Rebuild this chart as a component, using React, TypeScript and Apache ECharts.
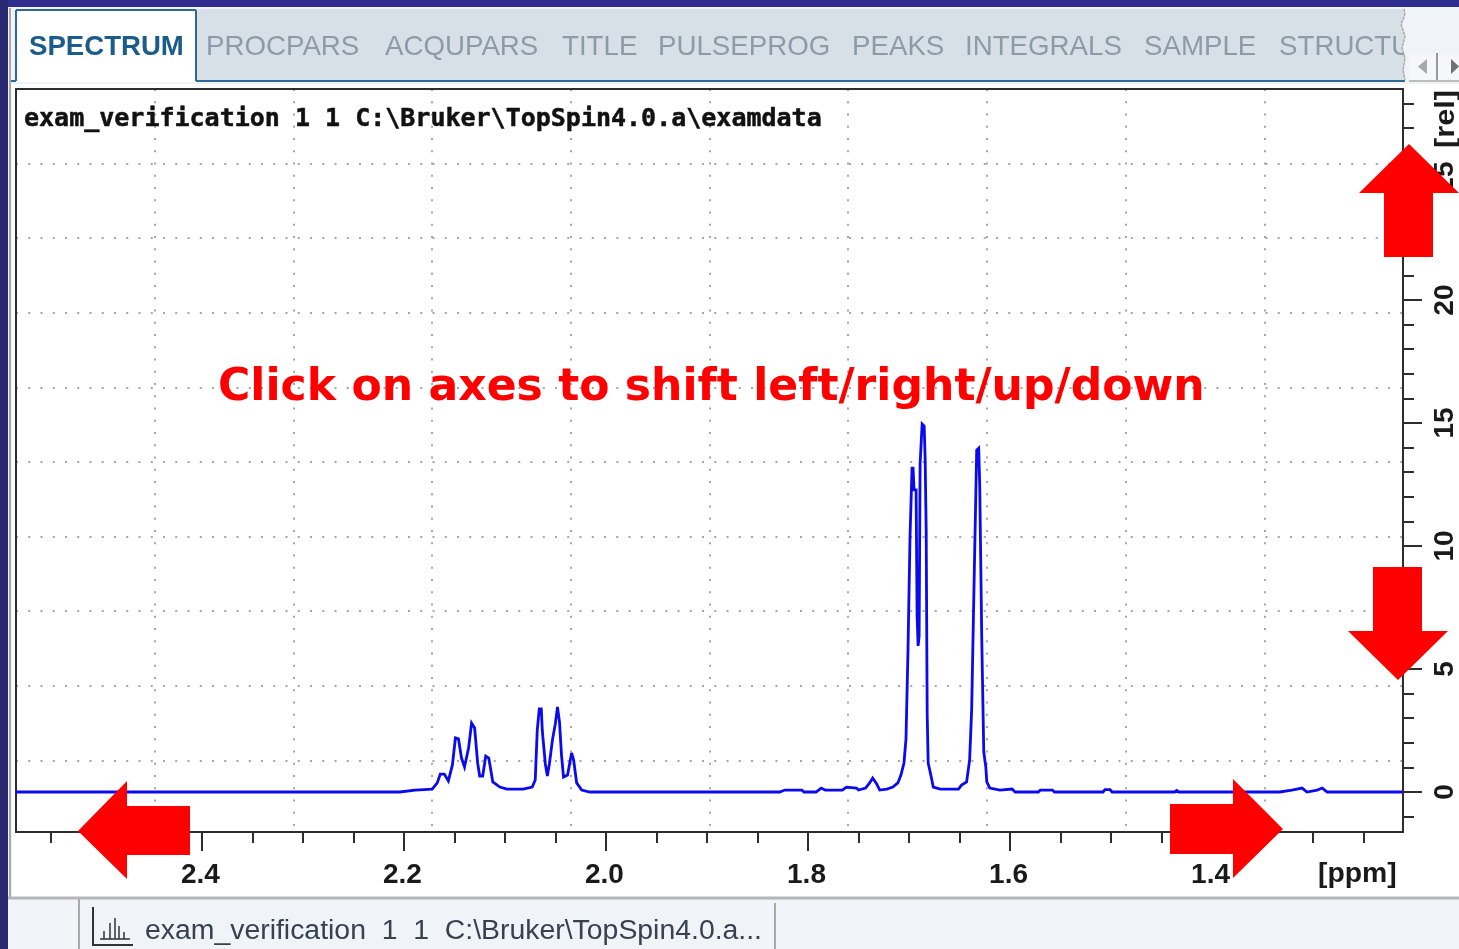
import React, { useEffect, useRef } from "react";
import * as echarts from "echarts";

const ppm = [2.584, 2.204, 2.189, 2.172, 2.167, 2.164, 2.16, 2.156, 2.152, 2.149, 2.146, 2.143, 2.14, 2.136, 2.133, 2.13, 2.127, 2.125, 2.122, 2.119, 2.116, 2.112, 2.105, 2.098, 2.082, 2.073, 2.07, 2.068, 2.066, 2.064, 2.063, 2.06, 2.058, 2.056, 2.053, 2.05, 2.048, 2.046, 2.044, 2.042, 2.038, 2.034, 2.032, 2.029, 2.024, 2.016, 1.828, 1.823, 1.806, 1.804, 1.792, 1.787, 1.783, 1.766, 1.762, 1.752, 1.75, 1.743, 1.739, 1.736, 1.732, 1.729, 1.722, 1.716, 1.711, 1.708, 1.705, 1.703, 1.701, 1.699, 1.697, 1.696, 1.695, 1.693, 1.692, 1.691, 1.69, 1.689, 1.687, 1.685, 1.684, 1.683, 1.682, 1.681, 1.678, 1.676, 1.669, 1.651, 1.648, 1.643, 1.64, 1.638, 1.635, 1.633, 1.631, 1.63, 1.628, 1.626, 1.624, 1.623, 1.62, 1.61, 1.598, 1.595, 1.572, 1.57, 1.558, 1.556, 1.508, 1.506, 1.501, 1.499, 1.437, 1.435, 1.433, 1.333, 1.321, 1.311, 1.306, 1.296, 1.291, 1.286, 1.211];
const intensity = [0, 0, 0.08, 0.12, 0.37, 0.73, 0.73, 0.45, 1.1, 2.2, 2.16, 1.38, 1.02, 1.79, 2.8, 2.6, 1.18, 0.65, 0.65, 1.46, 1.38, 0.41, 0.2, 0.12, 0.12, 0.2, 0.49, 2.52, 3.38, 3.38, 2.48, 1.14, 0.65, 1.14, 2.11, 2.8, 3.46, 2.85, 1.5, 0.61, 0.69, 1.59, 1.3, 0.37, 0.08, 0, 0, 0.08, 0.08, 0, 0, 0.16, 0.08, 0.08, 0.2, 0.16, 0.08, 0.16, 0.37, 0.57, 0.33, 0.08, 0.12, 0.2, 0.37, 0.69, 1.18, 2.15, 5.77, 10.4, 13.17, 13.17, 12.28, 12.28, 7.16, 5.94, 6.34, 13.37, 14.96, 14.88, 13.5, 10.6, 3.13, 1.18, 0.61, 0.2, 0.12, 0.12, 0.28, 0.41, 1.3, 3.33, 9.76, 13.9, 13.98, 12.48, 6.26, 1.63, 1.02, 0.41, 0.16, 0.08, 0.12, 0, 0, 0.08, 0.08, 0, 0, 0.1, 0.1, 0, 0, 0.06, 0, 0, 0.08, 0.16, 0, 0.08, 0.16, 0, 0];

const xMajor = [2.4, 2.2, 2.0, 1.8, 1.6, 1.4];
const xMinor = [2.55, 2.5, 2.45, 2.35, 2.3, 2.25, 2.15, 2.1, 2.05, 1.95, 1.9, 1.85, 1.75, 1.7, 1.65, 1.55, 1.5, 1.45, 1.35, 1.3, 1.25];
const yMajor = [0, 5, 10, 15, 20, 25];
const yMinor = [-1, 1, 2, 3, 4, 6, 7, 8, 9, 11, 12, 13, 14, 16, 17, 18, 19, 21, 22, 23, 24, 26, 27, 28];

const tabs = [
  { label: "PROCPARS", x: 206 },
  { label: "ACQUPARS", x: 385 },
  { label: "TITLE", x: 562 },
  { label: "PULSEPROG", x: 658 },
  { label: "PEAKS", x: 852 },
  { label: "INTEGRALS", x: 965 },
  { label: "SAMPLE", x: 1144 },
  { label: "STRUCTU", x: 1279 },
];

const DARK = "#2d2d2d";
const RED = "#ff0000";
const SANS = '"Liberation Sans", Arial, sans-serif';

const rect = (x: number, y: number, w: number, h: number, fill: string, z = -5) => ({
  type: "rect", z, silent: true, shape: { x, y, width: w, height: h }, style: { fill },
});
const line = (x1: number, y1: number, x2: number, y2: number, stroke: string, lineWidth = 2, z = -3) => ({
  type: "line", z, silent: true, shape: { x1, y1, x2, y2 }, style: { stroke, lineWidth },
});
const poly = (points: number[][], fill: string, z = 50) => ({
  type: "polygon", z, silent: true, shape: { points }, style: { fill },
});
const label = (text: string, x: number, y: number, font: string, fill: string, z = 40, extra: any = {}, styleExtra: any = {}) => ({
  type: "text", z, silent: true, x, y, ...extra,
  style: { text, font, fill, textVerticalAlign: "middle", textBaseline: "middle", ...styleExtra },
});

const chrome = [
  rect(0, 0, 1459, 949, "#f0f4f8", -9),
  rect(0, 0, 1459, 7, "#2f2e8e", -8),
  rect(0, 0, 8, 949, "#28286f", -8),
  rect(12, 84, 1447, 813, "#ffffff", -8),
  line(10, 8, 10, 897, "#a8a8a8", 2),
  line(8, 898, 1459, 898, "#b4b6b8", 3),
  rect(16, 9, 1389, 72, "#d8e0e7", -7),
  rect(16, 10, 180, 72, "#ffffff", -6),
  line(16, 10, 196, 10, "#2c6a94", 2, -4),
  line(16, 10, 16, 81, "#2c6a94", 2, -4),
  line(196, 10, 196, 81, "#2c6a94", 2, -4),
  line(196, 81, 1405, 81, "#2c6a94", 2, -4),
  line(11, 81, 16, 81, "#2c6a94", 2, -4),
  line(79, 899, 79, 949, "#a8a8a8", 2),
  line(775, 903, 775, 949, "#a8a8a8", 2),
];

const tabLabels = [
  label("SPECTRUM", 29, 45.5, `bold 27.6px ${SANS}`, "#1c5c8a"),
  ...tabs.map((t) => label(t.label, t.x, 45.5, `27.7px ${SANS}`, "#8d9ba8")),
  poly([[1405, 8], [1407, 14], [1402, 24], [1405, 36], [1403, 48], [1405, 58], [1404, 70], [1406, 81], [1459, 81], [1459, 8]], "#f0f4f8", 41),
  { type: "polyline", z: 42, silent: true, shape: { points: [[1404, 9], [1405, 14], [1401, 24], [1405, 36], [1402, 48], [1405, 58], [1403, 70], [1405, 80]] }, style: { stroke: "#a9a9a9", fill: "none", lineWidth: 1.5, lineDash: [3, 1] } },
  rect(1409, 53, 50, 28, "#f5f7f9", 43),
  line(1437, 53, 1437, 81, "#999999", 2, 44),
  line(1409, 81, 1459, 81, "#bdbdbd", 2, 44),
  poly([[1427, 59], [1427, 74], [1418, 66.5]], "#a8a8a8", 44),
  poly([[1451, 59], [1451, 74], [1459, 66.5]], "#707070", 44),
];

const texts = [
  label("exam_verification 1 1 C:\\Bruker\\TopSpin4.0.a\\examdata", 24, 117, `bold 25px "DejaVu Sans Mono", monospace`, "#111111", 30, {}, { stroke: "#111111", lineWidth: 0.5 }),
  label("[ppm]", 1318, 873, `bold 27px ${SANS}`, "#1a1a1a", 40, { scaleX: 1.05 }),
  label("[rel]", 1445, 148, `bold 27px ${SANS}`, "#1a1a1a", 40, { rotation: Math.PI / 2, scaleX: 1.14 }),
  label("exam_verification  1  1  C:\\Bruker\\TopSpin4.0.a...", 145, 929, `28.4px ${SANS}`, "#37414f"),
  label("Click on axes to shift left/right/up/down", 218, 384, `bold 44.1px "DejaVu Sans", sans-serif`, RED, 60),
];

const icon = [
  { type: "polyline", z: 40, silent: true, shape: { points: [[93, 907], [93, 945], [133, 945]] }, style: { stroke: "#333333", fill: "none", lineWidth: 2 } },
  line(100, 939, 130, 939, "#333333", 1.5, 40),
  line(104, 939, 104, 931, "#333333", 1.5, 40),
  line(110, 939, 110, 923, "#333333", 1.5, 40),
  line(115, 939, 115, 918, "#333333", 1.5, 40),
  line(119, 939, 119, 926, "#333333", 1.5, 40),
  line(124, 939, 124, 932, "#333333", 1.5, 40),
];

const arrows = [
  poly([[1409, 144], [1459, 193], [1433, 193], [1433, 257], [1384, 257], [1384, 193], [1359, 193]], RED),
  poly([[1373, 567], [1422, 567], [1422, 631], [1448, 631], [1398, 680], [1348, 631], [1373, 631]], RED),
  poly([[78, 831], [127, 781], [127, 806], [190, 806], [190, 855], [127, 855], [127, 879]], RED),
  poly([[1283, 829], [1233, 779], [1233, 804], [1170, 804], [1170, 854], [1233, 854], [1233, 878]], RED),
];

const dots = { show: true, lineStyle: { color: "#a6a6a6", width: 2, type: [2, 10.25] as any } };

export default function App() {
  const ref = useRef<HTMLDivElement>(null);
  useEffect(() => {
    const chart = echarts.init(ref.current!, null, { renderer: "svg" });
    chart.setOption({
      animation: false,
      grid: { left: 16, top: 89, width: 1387, height: 743, show: false },
      xAxis: [
        {
          type: "value", inverse: true, min: 1.211, max: 2.584, position: "bottom",
          axisLine: { show: true, onZero: false, lineStyle: { color: DARK, width: 2 } },
          axisTick: { show: true, customValues: xMajor, length: 19, lineStyle: { color: DARK, width: 2 } },
          axisLabel: { show: true, customValues: xMajor, margin: 27, color: "#1a1a1a", fontFamily: SANS, fontWeight: "bold", fontSize: 28, padding: [0, 3, 0, 0], formatter: (v: number) => v.toFixed(1) },
          splitLine: { show: false },
        },
        {
          type: "value", inverse: true, min: 1.211, max: 2.584, position: "bottom",
          axisLine: { show: false, onZero: false },
          axisTick: { show: true, customValues: xMinor, length: 11, lineStyle: { color: DARK, width: 2 } },
          axisLabel: { show: false },
          splitLine: { show: false },
        },
        {
          type: "value", min: 0, max: 10, interval: 1, position: "top",
          axisLine: { show: true, onZero: false, lineStyle: { color: DARK, width: 2 } },
          axisTick: { show: false }, axisLabel: { show: false },
          splitLine: dots,
        },
      ],
      yAxis: [
        {
          type: "value", min: -1.626, max: 28.58, position: "right",
          axisLine: { show: true, onZero: false, lineStyle: { color: DARK, width: 2 } },
          axisTick: { show: true, customValues: yMajor, length: 19, lineStyle: { color: DARK, width: 2 } },
          axisLabel: { show: true, customValues: yMajor, rotate: 90, margin: 26, color: "#1a1a1a", fontFamily: SANS, fontWeight: "bold", fontSize: 28 },
          splitLine: { show: false },
        },
        {
          type: "value", min: -1.626, max: 28.58, position: "right",
          axisLine: { show: false, onZero: false },
          axisTick: { show: true, customValues: yMinor, length: 11, lineStyle: { color: DARK, width: 2 } },
          axisLabel: { show: false },
          splitLine: { show: false },
        },
        {
          type: "value", inverse: true, min: 0, max: 9.96, interval: 1, position: "left",
          axisLine: { show: true, onZero: false, lineStyle: { color: DARK, width: 2 } },
          axisTick: { show: false }, axisLabel: { show: false },
          splitLine: dots,
        },
      ],
      series: [
        {
          type: "line", name: "exam_verification 1 1", xAxisIndex: 0, yAxisIndex: 0,
          data: ppm.map((p, i) => [p, intensity[i]]),
          showSymbol: false, clip: true,
          lineStyle: { color: "#0a0af0", width: 2.8, join: "miter" },
          z: 5,
        },
      ],
      graphic: { elements: [...chrome, ...tabLabels, ...icon, ...texts, ...arrows] },
    });
    return () => chart.dispose();
  }, []);
  return <div ref={ref} style={{ position: "fixed", left: 0, top: 0, width: 1459, height: 949 }} />;
}
